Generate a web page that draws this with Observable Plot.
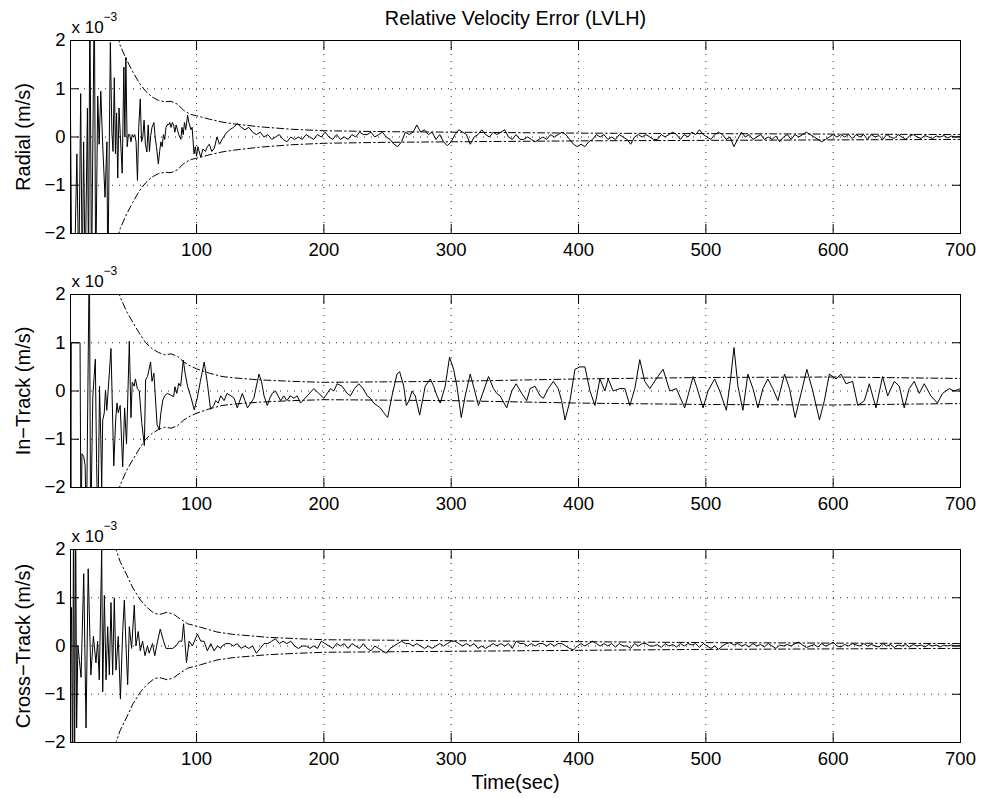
<!DOCTYPE html>
<html><head><meta charset="utf-8">
<script src="https://cdn.jsdelivr.net/npm/d3@7"></script>
<script src="https://cdn.jsdelivr.net/npm/@observablehq/plot@0.6"></script>
<style>
body{margin:0;background:#fff;}
#chart{position:relative;width:984px;height:798px;font-family:"Liberation Sans",Arial,sans-serif;}
.panel{position:absolute;left:0;}
</style></head><body><div id="chart"></div>
<script>
// ---------- data (velocity errors in units of 1e-3 m/s) ----------
const title = "Relative Velocity Error (LVLH)";
const xLabel = "Time(sec)";
const panelLabels = ["Radial (m/s)", "In\u2212Track (m/s)", "Cross\u2212Track (m/s)"];
const xTicks = [100, 200, 300, 400, 500, 600, 700];
const yTicks = [-2, -1, 0, 1, 2];
const gridXVals = [100, 200, 300, 400, 500, 600];
const gridYVals = [-1, 0, 1];
const lateStart = 120, lateStep = 3; // sample spacing of the late part (sec)

const radialEarly = [
[1,0.5],[2,-3],[4,-3],[6,-0.35],[7.5,-3],[9,0.9],[10.2,-3],[11.3,-0.1],[12.5,-3],[14.3,0.6],[15.2,-3],[16.2,3],[17.5,-3],[19.7,3],[20.8,-3],[22.4,0.85],[23.5,-0.15],[24.8,0.95],[26.2,-0.1],[28.1,-1.25],[29.6,-0.1],[30.3,-3],[32.3,1.96],[33.5,0.1],[34.4,-0.3],[35.4,1.23],[36.3,-0.35],[37.2,0.5],[38.1,-0.85],[39.1,0.6],[40.1,0.05],[41.6,-0.75],[42.9,1.45],[43.7,0.0],[44.5,1.65],[45.5,-0.2],[46.5,0.05],[47.5,0.05],[48.5,-0.1],[49.5,0.05],[50.5,0.0],[51.5,0.05],[52.5,-0.1],[53.6,-0.9],[54.6,0.2],[55.8,0.79],[56.8,-0.1],[57.8,0.0],[58.8,0.35],[59.8,-0.15],[61,-0.31],[62,0.25],[63,-0.3],[64,0.03],[65,0.2],[66.5,0.3],[67.5,0.0],[68.5,-0.2],[70,-0.56],[71,-0.3],[72,-0.1],[73,-0.2],[74,0.05],[75,-0.05],[76,0.2],[77.3,0.27],[78,0.25],[79,0.3],[80,0.2],[81,0.3],[82,0.25],[83,0.1],[84,0.25],[85,0.15],[86,0.05],[87.7,-0.05],[88.5,0.2],[89.5,0.05],[90.5,0.3],[91.5,0.15],[93,0.45],[94,0.3],[95.6,0.15],[96.5,0.2],[98,-0.35],[99,-0.2],[100,-0.4],[101,-0.2],[103.3,-0.42],[105,-0.25],[107,-0.3],[108.5,-0.2],[110,-0.15],[112,-0.3],[114,-0.23],[116,0.0],[118,-0.15]
];
const radialLate = [
-0.05,0.07,0.15,0.2,0.28,0.2,0.15,0.2,0.1,0.05,
0.1,0.0,0.05,-0.05,0.0,0.05,-0.05,-0.1,0.0,-0.05,
0.0,-0.05,0.05,0.0,-0.05,0.05,0.0,0.1,0.0,-0.05,
0.05,-0.05,0.0,-0.05,0.05,0.0,0.1,0.05,0.05,0.1,
0.0,0.05,0.1,0.0,-0.05,-0.15,-0.2,-0.1,0.1,0.05,
0.1,0.25,0.1,0.15,0.05,0.1,-0.05,0.05,-0.1,-0.18,
-0.1,0.05,0.15,0.1,0.05,-0.15,0.0,0.05,0.15,0.05,
0.0,0.1,0.05,0.1,0.15,0.0,-0.05,0.05,-0.05,-0.05,
0.0,-0.05,-0.1,-0.05,0.0,-0.05,0.05,0.0,0.05,0.1,
0.05,-0.05,-0.15,-0.2,-0.15,-0.2,-0.1,-0.05,0.05,0.0,
0.05,-0.05,0.0,-0.05,0.05,0.0,-0.05,-0.15,0.0,0.05,
0.0,0.05,0.0,-0.05,-0.05,0.05,0.0,0.05,0.1,0.05,
-0.05,0.05,0.0,0.1,0.05,0.15,0.05,0.0,-0.05,0.05,
0.1,0.05,-0.05,0.0,-0.2,-0.05,0.1,0.0,0.05,-0.05,
0.0,0.05,-0.05,0.0,-0.05,0.02,-0.1,0.0,0.05,-0.05,
0.05,0.0,0.05,0.1,0.05,0.0,-0.05,-0.1,-0.05,0.0,
0.05,0.0,0.05,0.0,0.05,-0.03,0.05,0.0,0.05,-0.05,
0.05,0.0,0.03,-0.05,0.05,0.0,-0.03,0.05,0.0,-0.05,
0.02,0.05,0.0,-0.03,0.03,0.0,-0.03,0.02,0.0,0.03,
-0.02,0.02,0.0,0.01
];
const radialSigma = [
[35,2.4],[40,1.9],[45,1.6],[50,1.35],[55,1.12],[60,0.95],[65,0.83],[70,0.76],[75,0.73],[80,0.74],[85,0.68],[90,0.55],[95,0.47],[100,0.44],[110,0.37],[120,0.31],[130,0.27],[150,0.21],[175,0.16],[200,0.13],[250,0.11],[300,0.1],[400,0.08],[500,0.07],[600,0.06],[700,0.05]
];

const inTrack = [
[1,-0.17],[1.3,-3],[1.6,1.0],[8.5,1.0],[9.2,-3],[10,-1.3],[11.4,-1.36],[12.5,-1.55],[13.5,-3],[15.8,3],[16.8,-3],[18.5,-0.12],[20.5,0.66],[21.5,-1.5],[22.5,-3],[23.8,0.1],[24.8,-1.0],[25.5,-2.0],[26.3,-0.6],[27.5,-0.46],[28.5,0.02],[29.5,-0.4],[31.5,0.37],[32.8,0.88],[35,-1.55],[36.5,-0.6],[37.5,-0.25],[38.5,-0.45],[40,-0.3],[42,-1.57],[43.5,-0.35],[45,-1.1],[47.2,1.03],[48.5,-0.55],[49.5,0.18],[51,0.1],[52,0.25],[53.5,0.05],[55,0.0],[57,-0.67],[59,-1.13],[60,0.23],[61.5,0.3],[63.9,0.6],[65,0.2],[66.5,0.37],[69,-0.7],[70.7,-0.8],[72,-0.45],[73.5,-0.19],[75,-0.1],[77,-0.05],[79.5,-0.08],[82,-0.12],[83,0.09],[84.5,-0.05],[86,0.16],[87.5,0.1],[89.6,0.64],[91,0.37],[93,0.09],[95.5,-0.12],[98.2,-0.39],[100.5,-0.15],[103,0.2],[106,0.6],[108.5,0.16],[111,-0.38],[113.5,-0.3],[115,-0.2],[117,-0.25],[119,-0.1],
[121.6,-0.2],[124,-0.05],[127,-0.1],[129.5,-0.15],[132,-0.35],[136,-0.05],[138,-0.2],[140,-0.35],[142.5,-0.25],[145,-0.15],[147,0.1],[149,0.35],[151,0.2],[153,-0.1],[155.6,-0.3],[157.5,-0.15],[159.5,-0.05],[162,0.0],[164,-0.1],[166,-0.2],[168.5,-0.1],[171,-0.2],[173.5,-0.1],[176.5,-0.15],[179,-0.1],[181.7,-0.25],
[187,-0.1],[192.1,0.05],[196,-0.05],[200,-0.15],[205.2,0.05],[207.8,0.0],[210.4,0.15],[214.3,0.1],[218.3,-0.05],[220.9,-0.1],[224,0.05],[227.4,0.15],[230.8,0.05],[234,-0.1],[236.5,-0.15],[239.2,-0.25],[241.8,-0.3],[244.4,-0.35],[247,-0.45],[250.1,-0.55],[253.5,-0.1],[257.4,0.35],[259.5,0.4],[262.7,0.1],[264.8,-0.3],[266.9,-0.2],[269.2,0.0],[271.8,-0.1],[275.2,-0.5],[277.8,-0.15],[279.6,0.1],[283.6,0.25],[286.2,0.1],[288.8,-0.1],[291.4,-0.25],[295.3,0.1],[298.7,0.7],[301.9,0.45],[304.5,0.1],[307.9,-0.55],[311,-0.1],[314.9,0.35],[317.5,0.1],[321.4,-0.3],[325.4,0.0],[329.3,0.3],[333.2,0.05],[335.8,-0.05],[338.4,-0.1],[343.6,-0.35],[347.6,0.0],[351,0.15],[355.4,-0.05],[359.3,-0.2],[362,0.05],[365.8,0.1],[369.8,-0.1],[372.4,-0.15],[376.3,0.05],[380.2,0.2],[384.1,0.05],[386.7,-0.2],[389.4,-0.6],[393.3,-0.2],[397.2,0.45],[401.1,0.5],[405,0.5],[409,0.0],[412.9,-0.3],[416.8,0.25],[420.7,0.0],[423.3,0.25],[427.2,0.0],[432.5,0.05],[436.4,0.05],[440.3,-0.3],[444.2,0.05],[448.1,0.65],[452,0.2],[456,0.05],[461,0.25],[466.4,0.45],[471.7,0.0],[476.9,0.05],[483.4,-0.35],[490,0.3],[492.6,0.1],[497.8,-0.35],[501.7,0.0],[506.9,0.25],[510.9,0.0],[516.1,-0.4],[519.2,0.2],[522.1,0.9],[525.2,0.1],[529.1,-0.4],[533,0.35],[537,0.05],[540.9,-0.35],[544.8,0.05],[548.7,0.25],[552.6,0.05],[556.6,-0.2],[561.8,0.35],[565.7,0.05],[570.1,-0.55],[574.8,-0.05],[579.3,0.45],[584,0.0],[589.2,-0.6],[593.1,-0.2],[597,0.35],[602.3,0.25],[606.2,0.35],[610.1,0.15],[615.3,0.2],[619.3,-0.3],[624.5,-0.2],[628.4,0.15],[633.6,-0.35],[638.8,0.3],[642.8,-0.1],[648,0.2],[651.9,0.1],[655.8,-0.35],[659.7,0.05],[663.7,0.2],[667.6,-0.05],[671.5,0.15],[676.7,-0.1],[681.9,-0.25],[685.9,-0.05],[691.1,0.05],[695,0.0],[700,0.05]
];
const inTrackSigma = [
[35,2.4],[40,1.95],[45,1.65],[50,1.42],[55,1.2],[60,1.0],[65,0.88],[70,0.8],[75,0.75],[80,0.77],[85,0.72],[90,0.6],[95,0.52],[100,0.46],[110,0.37],[120,0.3],[130,0.27],[150,0.23],[175,0.2],[200,0.18],[250,0.19],[300,0.2],[400,0.25],[500,0.28],[600,0.29],[700,0.26]
];

const crossEarly = [
[1,0.0],[1.8,0.8],[2.6,-3],[3.4,3],[4.2,-3],[5,3],[5.8,-1.7],[6.8,0.0],[8,-0.3],[9.3,-0.65],[11.4,1.5],[13.2,-1.7],[14.9,1.6],[17,-0.6],[19,0.2],[21,-0.35],[22.3,0.1],[23.6,-0.7],[25.5,2.0],[26.3,-0.95],[27.6,1.05],[28.9,-0.7],[30.2,0.4],[31.5,-0.6],[32.8,0.9],[34.1,-0.6],[35.4,1.0],[36.7,-0.5],[38.5,0.2],[40.2,-1.1],[42,0.3],[43.3,0.95],[44.6,0.0],[45.9,-0.8],[47.2,0.4],[49,-0.05],[51.1,0.85],[52.4,0.0],[54.2,0.3],[55.8,-0.1],[57.6,0.1],[59.5,-0.2],[61.5,0.0],[62.8,-0.15],[65.4,0.05],[67.2,-0.2],[69.4,0.1],[71.5,0.35],[74.1,0.1],[76,-0.05],[78.5,-0.05],[81.2,-0.05],[83.8,0.0],[86.4,0.1],[88.5,0.1],[89.8,0.46],[92.1,-0.35],[94.1,0.1],[96.8,0.0],[100.7,0.25],[103.3,0.1],[105.9,0.1],[108.5,-0.1],[111.2,0.05],[113.8,-0.1],[116.4,0.0],[119,-0.05]
];
const crossLate = [
0.0,0.05,0.05,0.0,0.05,-0.05,0.0,-0.05,0.0,-0.15,
-0.05,0.05,0.05,0.1,0.15,0.05,0.1,0.05,0.1,0.0,
-0.05,0.0,0.0,-0.05,0.0,-0.05,0.1,0.05,0.0,-0.05,
0.05,0.0,0.05,-0.05,0.05,0.0,-0.05,0.05,-0.05,-0.1,
0.0,-0.05,-0.1,-0.15,-0.05,0.0,0.05,0.1,0.05,0.05,
0.0,0.05,0.0,-0.05,0.0,-0.05,0.0,0.05,0.0,0.05,
0.1,0.1,0.05,0.0,0.05,0.0,0.05,-0.05,0.0,-0.05,
0.0,0.05,0.0,0.05,0.0,0.05,-0.05,0.1,0.05,0.05,
0.0,0.05,0.0,0.05,0.05,0.0,0.05,0.0,0.05,0.05,
0.0,-0.05,-0.08,0.0,0.05,0.0,0.05,0.1,0.05,0.0,
0.05,0.0,0.05,-0.02,0.05,0.0,0.0,-0.05,0.05,0.0,
0.05,0.05,0.0,0.0,0.03,-0.03,0.05,0.0,0.03,-0.02,
0.05,0.0,0.05,0.02,0.05,-0.03,0.05,0.0,-0.05,0.0,
-0.07,0.0,0.05,0.07,0.02,0.05,0.0,0.03,-0.02,0.05,
0.0,0.03,-0.02,0.05,0.0,-0.05,0.02,0.0,0.03,0.0,
0.05,0.08,0.02,-0.03,0.0,0.03,-0.02,0.05,0.0,0.03,
0.08,0.0,-0.02,0.03,0.0,0.05,0.02,0.0,0.05,0.0,
0.03,0.0,-0.02,0.05,0.0,0.03,-0.03,0.02,0.0,0.03,
-0.02,0.03,0.0,0.02,-0.02,0.03,0.0,0.02,-0.02,0.02,
0.0,0.02,0.0,0.01
];
const crossSigma = [
[33,2.4],[37,1.98],[40,1.75],[46,1.43],[50,1.2],[56,0.95],[61,0.8],[67,0.67],[72,0.66],[77,0.7],[82,0.66],[85,0.6],[93,0.46],[103,0.39],[116,0.29],[129,0.24],[156,0.18],[180,0.15],[200,0.13],[250,0.12],[300,0.11],[400,0.09],[500,0.07],[600,0.06],[700,0.05]
];

// ---------- build ----------
const FONT = "'Liberation Sans', Arial, Helvetica, sans-serif";
function series(early, late) {
  const out = early.map(([t, v]) => ({t, v}));
  if (late) late.forEach((v, i) => out.push({t: lateStart + i * lateStep, v}));
  return out;
}
function panel({label, data, sigma, top, height, marginBottom, first, last}) {
  const upper = sigma.map(([t, s]) => ({t, v: s}));
  const lower = sigma.map(([t, s]) => ({t, v: -s}));
  const dotted = {stroke: "#000", strokeOpacity: 0.85, strokeDasharray: "1,6", strokeWidth: 1};
  const dashdot = {x: "t", y: "v", stroke: "#000", strokeWidth: 1, strokeDasharray: "7,3,1.5,3", clip: true};
  const marks = [
    Plot.ruleX(gridXVals, dotted),
    Plot.ruleY(gridYVals, dotted),
    Plot.line(upper, dashdot),
    Plot.line(lower, dashdot),
    Plot.line(data, {x: "t", y: "v", stroke: "#000", strokeWidth: 1, clip: true}),
    Plot.frame({stroke: "#000", strokeWidth: 1}),
    Plot.axisX(xTicks, {anchor: "bottom", tickSize: -9, tickPadding: 18, fontSize: 18.5, label: null}),
    Plot.axisX(xTicks, {anchor: "top", tickSize: -9, tickFormat: () => "", label: null}),
    Plot.axisY(yTicks, {anchor: "left", tickSize: -9, tickPadding: 14, fontSize: 18.5, label: null}),
    Plot.axisY(yTicks, {anchor: "right", tickSize: -9, tickFormat: () => "", label: null}),
    Plot.text([label], {frameAnchor: "left", rotate: -90, dx: -47, fontSize: 20, textAnchor: "middle", lineAnchor: "middle"}),
    Plot.text(["x 10"], {frameAnchor: "top-left", textAnchor: "start", lineAnchor: "bottom", dx: 1, dy: -8, fontSize: 17}),
    Plot.text(["\u22123"], {frameAnchor: "top-left", textAnchor: "start", lineAnchor: "bottom", dx: 33, dy: -20, fontSize: 12})
  ];
  if (first) marks.push(Plot.text([title], {frameAnchor: "top", lineAnchor: "bottom", dy: -16, fontSize: 19.8}));
  if (last) marks.push(Plot.text([xLabel], {frameAnchor: "bottom", lineAnchor: "bottom", dy: 46, fontSize: 20}));
  const svg = Plot.plot({
    width: 984, height,
    marginLeft: 70, marginRight: 24, marginTop: 40, marginBottom,
    x: {domain: [1, 700], label: null},
    y: {domain: [-2, 2], label: null},
    style: {fontFamily: FONT, fontSize: "18px", color: "#000", background: "transparent", overflow: "visible"},
    marks
  });
  const div = document.createElement("div");
  div.className = "panel";
  div.style.top = top + "px";
  div.appendChild(svg);
  document.getElementById("chart").appendChild(div);
}

panel({label: panelLabels[0], data: series(radialEarly, radialLate), sigma: radialSigma, top: 0, height: 256, marginBottom: 23, first: true});
panel({label: panelLabels[1], data: series(inTrack, null), sigma: inTrackSigma, top: 254, height: 256, marginBottom: 23});
panel({label: panelLabels[2], data: series(crossEarly, crossLate), sigma: crossSigma, top: 509, height: 289, marginBottom: 56, last: true});
</script>
</body></html>
